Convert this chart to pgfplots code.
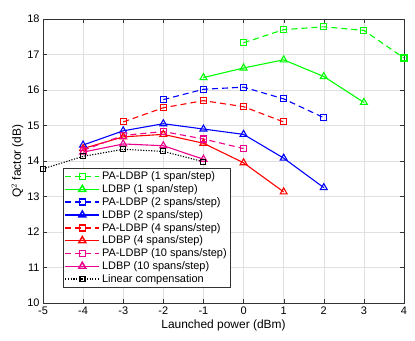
\documentclass[border=0pt]{standalone}
\usepackage{fontspec}
\setmainfont{Liberation Sans}
\usepackage{pgfplots}
\pgfplotsset{compat=1.18}

\begin{document}
\begin{tikzpicture}
  \begin{axis}[
    name=ax,
    width=361bp, height=284bp,
    scale only axis,
    xmin=-5, xmax=4, ymin=10, ymax=18,
    xtick={-5,...,4}, ytick={10,...,18},
    xlabel={Launched power (dBm)},
    ylabel={Q$^2$ factor (dB)},
    label style={font=\fontsize{12}{14}\selectfont},
    xlabel style={yshift=1bp},
    ylabel style={yshift=-3bp},
    /pgf/number format/assume math mode=true,
    grid=major,
    major grid style={black!12, line width=0.5pt},
    axis line style={black!80, line width=0.5pt},
    tick style={black!80},
    tick align=inside,
    ticklabel style={font=\fontsize{11}{13}\selectfont},
    legend style={at={(0.055,0.475)}, anchor=north west, draw=black!80,
      font=\fontsize{11}{13}\selectfont, row sep=-0.6bp, inner sep=1.5bp},
    legend cell align=left,
    legend image code/.code={
      \draw[mark repeat=2, mark phase=2, line width=1.5pt]
        plot coordinates {(0bp,0bp) (17bp,0bp) (34bp,0bp)};
    },
    lw/.style={line width=1.1pt},
    pad/.style={lw, dash pattern=on 6bp off 4bp},
  ]
    % 1 span/step
    \addplot[color=green, pad, mark=square, mark size=3bp, mark options={solid}]
      coordinates {(0,17.33) (1,17.70) (2,17.78) (3,17.68) (4,16.90)};
    \addlegendentry{PA-LDBP (1 span/step)}
    \addplot[color=green, lw, mark=triangle, mark size=4bp]
      coordinates {(-1,16.35) (0,16.62) (1,16.85) (2,16.38) (3,15.65)};
    \addlegendentry{LDBP (1 span/step)}
    % 2 spans/step
    \addplot[color=blue, pad, mark=square, mark size=3bp, mark options={solid}]
      coordinates {(-2,15.73) (-1,16.02) (0,16.08) (1,15.75) (2,15.22)};
    \addlegendentry{PA-LDBP (2 spans/step)}
    \addplot[color=blue, lw, mark=triangle, mark size=4bp]
      coordinates {(-4,14.45) (-3,14.85) (-2,15.05) (-1,14.90) (0,14.75) (1,14.08) (2,13.25)};
    \addlegendentry{LDBP (2 spans/step)}
    % 4 spans/step
    \addplot[color=red, pad, mark=square, mark size=3bp, mark options={solid}]
      coordinates {(-3,15.10) (-2,15.50) (-1,15.70) (0,15.53) (1,15.10)};
    \addlegendentry{PA-LDBP (4 spans/step)}
    \addplot[color=red, lw, mark=triangle, mark size=4bp]
      coordinates {(-4,14.35) (-3,14.68) (-2,14.75) (-1,14.50) (0,13.95) (1,13.13)};
    \addlegendentry{LDBP (4 spans/step)}
    % 10 spans/step
    \addplot[color=magenta, pad, mark=square, mark size=3bp, mark options={solid}]
      coordinates {(-4,14.30) (-3,14.72) (-2,14.83) (-1,14.62) (0,14.35)};
    \addlegendentry{PA-LDBP (10 spans/step)}
    \addplot[color=magenta, lw, mark=triangle, mark size=4bp]
      coordinates {(-4,14.25) (-3,14.48) (-2,14.43) (-1,14.05)};
    \addlegendentry{LDBP (10 spans/step)}
    % linear
    \addplot[color=black, lw, dash pattern=on 1.2bp off 1.5bp, mark=square, mark size=2.5bp, mark options={solid}]
      coordinates {(-5,13.78) (-4,14.13) (-3,14.33) (-2,14.27) (-1,13.98)};
    \addlegendentry{Linear compensation}
  \end{axis}
  \path (ax.south west) ++(-43bp,-38bp);
  \path (ax.north east) ++(11bp,19bp);
\end{tikzpicture}
\end{document}
